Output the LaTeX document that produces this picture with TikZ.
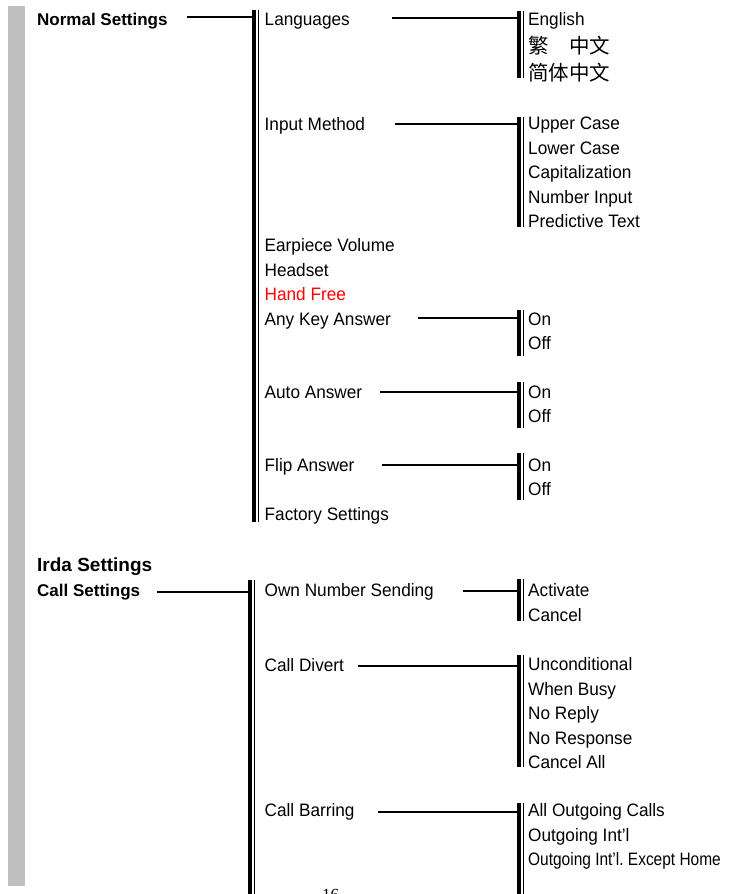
\documentclass[tikz,border=0pt]{standalone}
\usepackage{fontspec}
\setmainfont{Liberation Sans}
\newfontfamily\itemfont{Liberation Sans}[FakeStretch=0.955]
\newfontfamily\cjkfont{Noto Sans CJK SC}
\newfontfamily\pagenumfont{Liberation Serif}
\definecolor{sidegray}{HTML}{BFBFBF}
\definecolor{itemred}{HTML}{FF0000}
\frenchspacing
\newcommand\dblbar[4]{%
  \node[tbar, minimum height={#4-#3}] (#1) at (#2,#3) {};
  \draw[thinbar] ([xshift=2.5pt]#1.north east) -- ([xshift=2.5pt]#1.south east);
}
\begin{document}
\begin{tikzpicture}[x=1pt,y=-1pt,
  lbl/.style={anchor=base west, inner sep=0pt, font=\fontsize{18}{21}\itemfont},
  hd/.style={anchor=base west, inner sep=0pt, font=\fontsize{17}{20}\selectfont\bfseries},
  bighd/.style={anchor=base west, inner sep=0pt, font=\fontsize{19}{22}\selectfont\bfseries},
  cjk/.style={anchor=base west, inner sep=0pt, font=\fontsize{20.5}{24}\cjkfont},
  conn/.style={line width=2pt},
  tbar/.style={fill=black, draw=none, inner sep=0pt, minimum width=4pt, anchor=north west},
  thinbar/.style={line width=1pt}
]
\useasboundingbox (0,0) rectangle (729,894);
\clip (0,0) rectangle (729,894);

% side gray strip
\fill[sidegray] (8,6) rectangle (25,886);

% ---------- Normal Settings ----------
\node[hd] (ns) at (37,25) {Normal Settings};
\dblbar{b1}{252}{10}{522}
\coordinate (cns) at (187,17);
\draw[conn] (cns) -- (cns -| b1.west);

\node[lbl] (lang) at (264.5,25) {Languages};
\node[lbl] (inp) at (264.5,130) {Input Method};
\node[lbl] (ear) at (264.5,251.5) {Earpiece Volume};
\node[lbl] (hs) at (264.5,276) {Headset};
\node[lbl, text=itemred] (hf) at (264.5,300.5) {Hand Free};
\node[lbl] (aka) at (264.5,325) {Any Key Answer};
\node[lbl] (aa) at (264.5,398) {Auto Answer};
\node[lbl] (fa) at (264.5,471.5) {Flip Answer};
\node[lbl] (fs) at (264.5,520) {Factory Settings};

% Languages
\dblbar{bl}{517}{11}{78}
\coordinate (clang) at (392,18);
\draw[conn] (clang) -- (clang -| bl.west);
\node[lbl] (en) at (528,25) {English};
\node[cjk] (tc) at (528,53.5) {繁　中文};
\node[cjk] (sc) at (528,80) {简体中文};

% Input Method
\dblbar{bi}{517}{117}{227}
\coordinate (cinp) at (395,124);
\draw[conn] (cinp) -- (cinp -| bi.west);
\node[lbl] (uc) at (528,129.5) {Upper Case};
\node[lbl] (lc) at (528,154) {Lower Case};
\node[lbl] (cap) at (528,178.5) {Capitalization};
\node[lbl] (ni) at (528,203) {Number Input};
\node[lbl] (pt) at (528,227.5) {Predictive Text};

% Any Key Answer
\dblbar{bk}{517}{310}{356}
\coordinate (caka) at (418,318);
\draw[conn] (caka) -- (caka -| bk.west);
\node[lbl] (akon) at (528,325) {On};
\node[lbl] (akoff) at (528,349) {Off};

% Auto Answer
\dblbar{ba}{517}{382}{428}
\coordinate (caa) at (380,392);
\draw[conn] (caa) -- (caa -| ba.west);
\node[lbl] (aaon) at (528,398) {On};
\node[lbl] (aaoff) at (528,422) {Off};

% Flip Answer
\dblbar{bf}{517}{453}{500}
\coordinate (cfa) at (382,465);
\draw[conn] (cfa) -- (cfa -| bf.west);
\node[lbl] (faon) at (528,471.5) {On};
\node[lbl] (faoff) at (528,495.5) {Off};

% ---------- Irda / Call Settings ----------
\node[bighd] (irda) at (37,571.5) {Irda Settings};
\node[hd] (cs) at (37,596.5) {Call Settings};
\dblbar{b2}{248}{580}{900}
\coordinate (ccs) at (157,592);
\draw[conn] (ccs) -- (ccs -| b2.west);

\node[lbl] (ons) at (264.5,596.5) {Own Number Sending};
\node[lbl] (cd) at (264.5,671) {Call Divert};
\node[lbl] (cb) at (264.5,816.5) {Call Barring};

% Own Number Sending
\dblbar{bo}{517}{579}{621}
\coordinate (cons) at (463,591);
\draw[conn] (cons) -- (cons -| bo.west);
\node[lbl] (act) at (528,596.5) {Activate};
\node[lbl] (can) at (528,621) {Cancel};

% Call Divert
\dblbar{bd}{517}{655}{767}
\coordinate (ccd) at (358,666);
\draw[conn] (ccd) -- (ccd -| bd.west);
\node[lbl] (unc) at (528,670.5) {Unconditional};
\node[lbl] (wb) at (528,695) {When Busy};
\node[lbl] (nr) at (528,719.5) {No Reply};
\node[lbl] (nres) at (528,744) {No Response};
\node[lbl] (ca) at (528,768) {Cancel All};

% Call Barring
\dblbar{bb}{517}{803}{900}
\coordinate (ccb) at (378,812);
\draw[conn] (ccb) -- (ccb -| bb.west);
\node[lbl] (aoc) at (528,816.5) {All Outgoing Calls};
\node[lbl] (oi) at (528,841) {Outgoing Int’l};
\node[lbl] (oieh) at (528,865.5) {\scalebox{0.9}[1]{Outgoing Int’l. Except Home}};

% page number (cut off)
\node[anchor=base west, inner sep=0pt, font=\fontsize{17}{20}\pagenumfont] (pg) at (322,900) {16};
\end{tikzpicture}
\end{document}
